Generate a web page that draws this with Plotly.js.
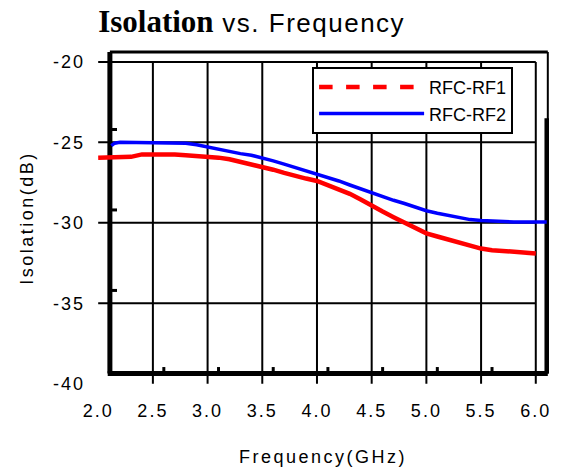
<!DOCTYPE html>
<html>
<head>
<meta charset="utf-8">
<script src="https://cdn.plot.ly/plotly-3.0.1.min.js"></script>
<style>
  html, body { margin: 0; padding: 0; background: #fff; }
  #chart { width: 563px; height: 470px; }
  .xtick text, .ytick text { letter-spacing: 2px; }
  .xtitle, .ytitle { letter-spacing: 2.5px; }
</style>
</head>
<body>
<div id="chart"></div>
<script>
// ---- data ----
const freqRF1 = [2.0,2.1,2.2,2.3,2.4,2.5,2.6,2.7,2.8,2.9,3.0,3.1,3.2,3.3,3.4,3.5,3.6,3.7,3.8,3.9,4.0,
                 4.1,4.2,4.3,4.4,4.5,4.6,4.7,4.8,4.9,5.0,5.1,5.2,5.3,5.4,5.5,5.6,5.7,5.8,5.9,6.0];
const isoRF1  = [-25.95,-25.95,-25.95,-25.9,-25.75,-25.75,-25.7,-25.75,-25.8,-25.85,-25.85,
                 -25.95,-26.05,-26.2,-26.35,-26.5,-26.7,-26.9,-27.1,-27.25,-27.4,
                 -27.65,-27.9,-28.2,-28.55,-28.95,-29.3,-29.65,-30.0,-30.35,-30.65,
                 -30.85,-31.05,-31.25,-31.45,-31.6,-31.7,-31.75,-31.85,-31.9,-31.9];
const freqRF2 = [2.12,2.15,2.2,2.3,2.4,2.5,2.6,2.7,2.8,2.9,3.0,3.1,3.2,3.3,3.4,3.5,3.6,3.7,3.8,3.9,4.0,
                 4.1,4.2,4.3,4.4,4.5,4.6,4.7,4.8,4.9,5.0,5.1,5.2,5.3,5.4,5.5,5.6,5.7,5.8,5.9,6.0,6.1];
const isoRF2  = [-25.2,-25.05,-25.0,-25.0,-25.0,-25.0,-25.0,-25.0,-25.05,-25.15,-25.3,
                 -25.45,-25.55,-25.7,-25.8,-25.95,-26.15,-26.35,-26.55,-26.75,-26.95,
                 -27.2,-27.4,-27.65,-27.9,-28.1,-28.35,-28.6,-28.8,-29.05,-29.25,
                 -29.4,-29.55,-29.7,-29.8,-29.85,-29.9,-29.95,-29.95,-29.95,-29.95,-29.95];
const seriesNames = ['RFC-RF1', 'RFC-RF2'];
const xTicks = [2.0,2.5,3.0,3.5,4.0,4.5,5.0,5.5,6.0];
const xTickText = ['2.0','2.5','3.0','3.5','4.0','4.5','5.0','5.5','6.0'];
const yTicks = [-20,-25,-30,-35,-40];
const yTickText = ['-20','-25','-30','-35','-40'];

// ---- layout constants (frame of the scanned plot) ----
const FR = {left: 2.107, right: 6.11, top: -19.38, bottom: -39.36};
const xMin = xTicks[0], xMax = xTicks[xTicks.length-1];
const yMax = yTicks[0], yMin = yTicks[yTicks.length-1];

const shapes = [];
const ln = (x0,y0,x1,y1,w) => ({type:'line', xref:'x', yref:'y', x0, y0, x1, y1,
                                line:{color:'#000', width:w}, layer:'below'});
// vertical grid (skip first), running from top tick down to bottom tick
xTicks.slice(1).forEach(v => shapes.push(ln(v, yMax, v, yMin, 2)));
// horizontal grid (skip last)
yTicks.slice(0, -1).forEach(v => shapes.push(ln(xMin, v, xMax, v, 2)));
// small inner marks
yTicks.slice(1, -1).forEach(v => shapes.push(ln(FR.left, v + 0.8, FR.left + 0.065, v + 0.8, 3)));
xTicks.slice(1, -1).forEach(v => shapes.push(ln(v + 0.1, FR.bottom, v + 0.1, FR.bottom + 0.4, 3)));
// frame
shapes.push(ln(FR.left, FR.top, FR.right, FR.top, 3));
shapes.push(ln(FR.left, FR.top, FR.left, FR.bottom, 5));
shapes.push(ln(FR.left - 0.02, FR.bottom, FR.right, FR.bottom, 5));
shapes.push(ln(FR.right, FR.top, FR.right, FR.bottom, 2));
shapes.push(ln(FR.right - 0.01, -23.5, FR.right - 0.01, FR.bottom, 4.5));

const traces = [
  {x: freqRF1, y: isoRF1, mode: 'lines', name: seriesNames[0], showlegend: false,
   line: {color: '#ff0000', width: 4.5}},
  {x: freqRF2, y: isoRF2, mode: 'lines', name: seriesNames[1], showlegend: false,
   line: {color: '#0000ff', width: 3.5}},
  {x: [null], y: [null], mode: 'lines', name: seriesNames[0],
   line: {color: '#ff0000', width: 4.5, dash: 'dash'}},
  {x: [null], y: [null], mode: 'lines', name: seriesNames[1],
   line: {color: '#0000ff', width: 3.5}}
];

const layout = {
  width: 563, height: 470,
  margin: {l: 96, r: 13, t: 49, b: 83},
  paper_bgcolor: '#fff', plot_bgcolor: '#fff',
  font: {family: 'Liberation Sans, Arial, sans-serif', color: '#000', size: 18},
  title: {
    text: '<span style="font-family:Liberation Serif;font-weight:bold;font-size:31px">Isolation</span>' +
          '<span style="font-family:Liberation Sans;font-size:26px;letter-spacing:1.5px"> vs. Frequency</span>',
    x: 0.447, xref: 'container', xanchor: 'center',
    y: 0.95, yref: 'container', yanchor: 'middle'
  },
  xaxis: {
    range: [1.98, 6.13], tickvals: xTicks, ticktext: xTickText,
    showgrid: false, zeroline: false, showline: false, ticks: '',
    ticklabelstandoff: 11, tickfont: {size: 18},
    title: {text: 'Frequency(GHz)', font: {size: 18}, standoff: 30}
  },
  yaxis: {
    range: [-40.2, -19.2], tickvals: yTicks, ticktext: yTickText,
    showgrid: false, zeroline: false, showline: false, ticks: '',
    ticklabelstandoff: 10, tickfont: {size: 18},
    title: {text: 'Isolation(dB)', font: {size: 18}, standoff: 14}
  },
  legend: {
    x: 0.476, y: 0.947, xanchor: 'left', yanchor: 'top',
    bgcolor: '#fff', bordercolor: '#000', borderwidth: 2,
    font: {size: 18}, itemwidth: 105, tracegroupgap: 0
  },
  shapes: shapes
};

Plotly.newPlot('chart', traces, layout, {displayModeBar: false, staticPlot: true});
</script>
</body>
</html>
